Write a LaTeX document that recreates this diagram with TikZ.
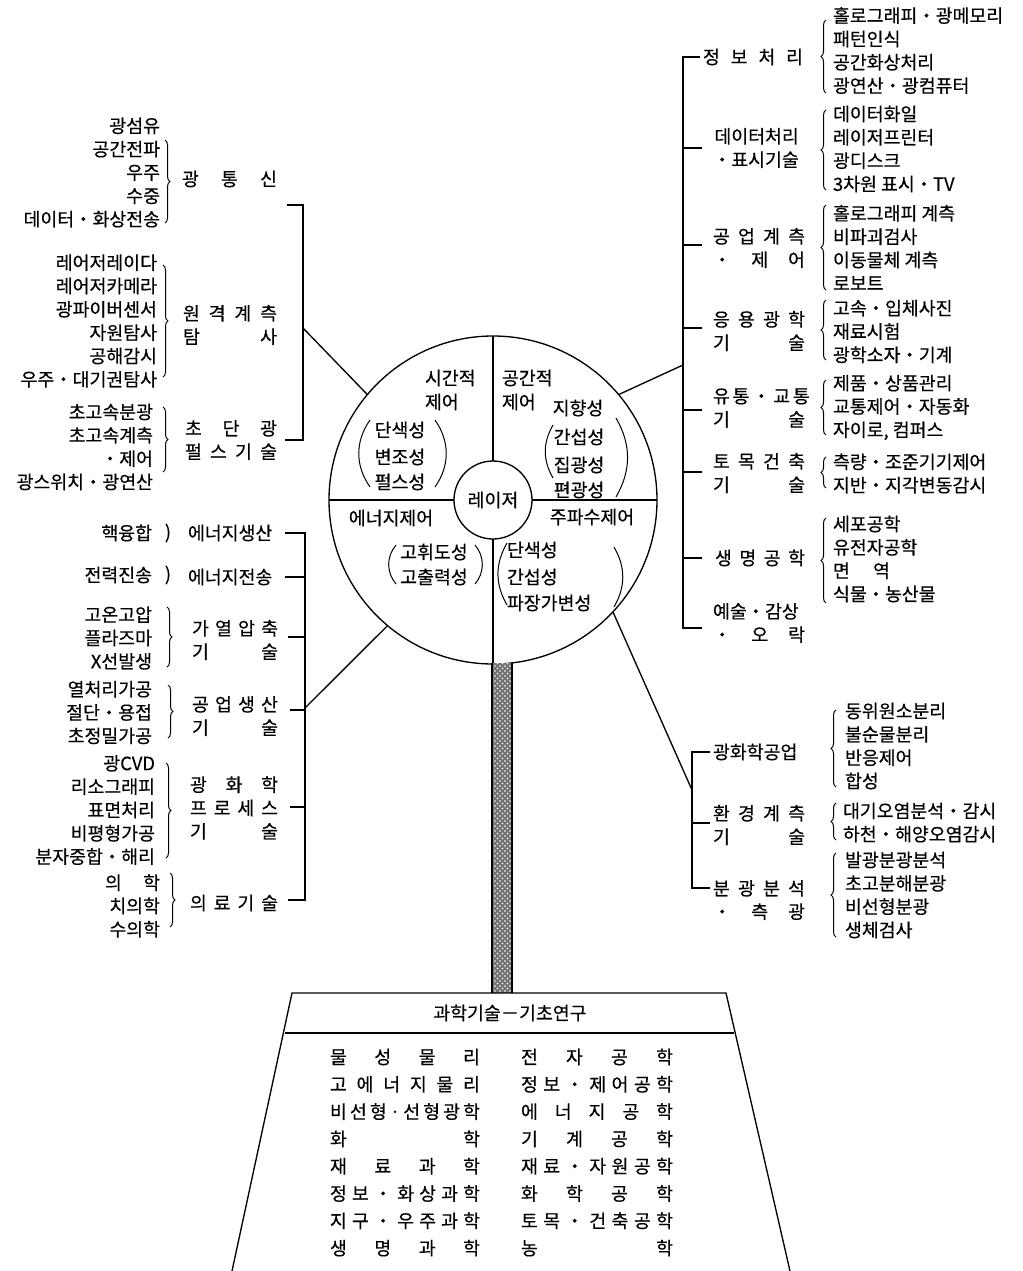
\documentclass[tikz,border=0pt]{standalone}
\usepackage{fontspec}
\setmainfont{Noto Sans CJK KR}[FakeBold=0.35]
\usetikzlibrary{decorations.pathreplacing,patterns}
\newlength\pxu \setlength\pxu{0.6pt}
\newcommand\ds[2]{\makebox[#1\pxu][s]{#2}}
\begin{document}
\fontsize{11}{14}\selectfont
\begin{tikzpicture}[x=0.6pt,y=-0.6pt,line width=0.8pt,
  every node/.style={inner sep=0pt,outer sep=0pt,font=\fontsize{11}{14}\selectfont},
  lst/.style={align=left,anchor=west},
  lstr/.style={align=right,anchor=east},
  lbl/.style={align=left,anchor=west},
  brc/.style={decorate,decoration={brace,amplitude=3pt},line width=0.6pt},
  prn/.style={line width=0.6pt}]
\useasboundingbox (0,0) rectangle (1023,1271);
\fill[white] (0,0) rectangle (1023,1271);

% ---------- central circle ----------
\node (big) [circle,draw,minimum size=196.8pt] at (493,500) {};
\node (inner) [circle,draw,fill=white,minimum size=46.8pt] at (493,500) {레이저};
\draw (big.west) -- (inner.west);
\draw (inner.east) -- (big.east);
\draw (big.north) -- (inner.north);
\draw (inner.south) -- (big.south);

\node (q1a) [anchor=west] at (425,378) {시간적};
\node (q1b) [anchor=west] at (425,402) {제어};
\node (q2a) [anchor=west] at (502,378) {공간적};
\node (q2b) [anchor=west] at (502,402) {제어};
\node (q1c) at (400,430) {단색성};
\node (q1d) at (400,457) {변조성};
\node (q1e) at (400,482) {펄스성};
\node (q2c) at (578,408) {지향성};
\node (q2d) at (579,437) {간섭성};
\node (q2e) at (579,465) {집광성};
\node (q2f) at (579,490) {편광성};
\node (q3a) at (391,518) {에너지제어};
\node (q4a) at (592,517) {주파수제어};
\node (q3b) at (434,552) {고휘도성};
\node (q3c) at (434,577) {고출력성};
\node (q4b) [anchor=west] at (507,550) {단색성};
\node (q4c) [anchor=west] at (507,577) {간섭성};
\node (q4d) [anchor=west] at (507,603) {파장가변성};

% parentheses in the circle
\draw[prn] (370,420) to[bend right=35] (370,487);
\draw[prn] (435,420) to[bend left=35] (435,487);
\draw[prn] (553,425) to[bend right=30] (553,478);
\draw[prn] (616,418) to[bend left=30] (616,497);
\draw[prn] (396,545) to[bend right=40] (396,584);
\draw[prn] (475,545) to[bend left=40] (475,584);
\draw[prn] (507,543) to[bend right=30] (507,605);
\draw[prn] (614,547) to[bend left=30] (614,607);

% ---------- stem and base ----------
\fill[black!55] (492,663) rectangle (512,993);
\fill[pattern=crosshatch dots,pattern color=white] (492,663) rectangle (512,993);
\draw[line width=1.3pt] (492,663) -- (492,993) (512,663) -- (512,993);
\draw (232,1271) -- (292,993) -- (726,993) -- (790,1271);
\draw (285,1033) -- (734,1033);
\node (hdr) at (510,1013) {과학기술－기초연구};
\foreach \a/\b [count=\i] in {{물 성 물 리}/{전 자 공 학},
  {고 에 너 지 물 리}/{정 보 ・ 제 어 공 학},
  {비 선 형 · 선 형 광 학}/{에 너 지 공 학},
  {화 학}/{기 계 공 학},
  {재 료 과 학}/{재 료 ・ 자 원 공 학},
  {정 보 ・ 화 상 과 학}/{화 학 공 학},
  {지 구 ・ 우 주 과 학}/{토 목 ・ 건 축 공 학},
  {생 명 과 학}/{농 학}}
{
  \node (tl\i) [anchor=west] at (330,{1029.7+27.3*\i}) {\ds{150}{\a}};
  \node (tr\i) [anchor=west] at (521,{1029.7+27.3*\i}) {\ds{152}{\b}};
}

% ---------- left upper ----------
\node (L1) [lstr] at (160,172.5) {광섬유\\공간전파\\우주\\수중\\데이터・화상전송};
\draw[brc] (165,140) -- (165,223);
\node (T1) [lbl] at (182,179) {\ds{95}{광 통 신}};
\node (L2) [lstr] at (157,321) {레어저레이다\\레어저카메라\\광파이버센서\\자원탐사\\공해감시\\우주・대기권탐사};
\draw[brc] (163,265) -- (163,377);
\node (T2) [lbl] at (183,325) {\ds{94}{원 격 계 측}\\\ds{94}{탐 사}};
\node (L3) [lstr] at (153,447) {초고속분광\\초고속계측\\・제어\\광스위치・광연산};
\draw[brc] (163,407) -- (163,472);
\node (T3) [lbl] at (185,440) {\ds{92}{초 단 광}\\\ds{92}{펄 스 기 술}};
\draw (287,205) -- (303,205) -- (303,440) -- (285,440);
\coordinate (ulj) at (303,328);
\draw (ulj) -- (big.140);

% ---------- left lower ----------
\node (L4) [anchor=east] at (152,533) {핵융합};
\node (P4) at (168,533) {)};
\node (T4) [lbl] at (188,533) {에너지생산};
\node (L5) [anchor=east] at (152,575) {전력진송};
\node (P5) at (168,575) {)};
\node (T5) [lbl] at (188,577) {에너지전송};
\node (L6) [lstr] at (152,638) {고온고압\\플라즈마\\X선발생};
\draw[brc] (167,607) -- (167,667);
\node (T6) [lbl] at (192,640) {\ds{86}{가 열 압 축}\\\ds{86}{기 술}};
\node (L7) [lstr] at (152,712.5) {열처리가공\\절단・용접\\초정밀가공};
\draw[brc] (168,685) -- (168,738);
\node (T7) [lbl] at (192,716) {\ds{86}{공 업 생 산}\\\ds{86}{기 술}};
\node (L8) [lstr] at (155,810) {광CVD\\리소그래피\\표면처리\\비평형가공\\분자중합・해리};
\draw[brc] (166,763) -- (166,858);
\node (T8) [lbl] at (190,808) {\ds{88}{광 화 학}\\\ds{88}{프 로 세 스}\\\ds{88}{기 술}};
\node (L9) [lstr] at (160,906) {\ds{55}{의 학}\\치의학\\수의학};
\draw[brc] (170,873) -- (170,927);
\node (T9) [lbl] at (190,903) {\ds{88}{의 료 기 술}};
\draw (285,533) -- (305,533) -- (305,900) -- (288,900);
\foreach \y/\x in {577/285,637/288,710/290,807/290} \draw (\x,\y) -- (305,\y);
\coordinate (llj) at (305,708);
\draw (big.230) -- (llj);

% ---------- right upper ----------
\node (S1) [lbl] at (703,57) {\ds{100}{정 보 처 리}};
\node (R1) [lst] at (833,50.5) {홀로그래피・광메모리\\패턴인식\\공간화상처리\\광연산・광컴퓨터};
\draw[brc] (826,93) -- (826,20);
\node (S2) [align=right,anchor=west] at (713,148) {데이터처리\\・표시기술};
\node (R2) [lst] at (833,149) {데이터화일\\레이저프린터\\광디스크\\3차원 표시・TV};
\draw[brc] (826,190) -- (826,110);
\node (S3) [lbl] at (713,248) {\ds{92}{공 업 계 측}\\\ds{92}{・ 제 어}};
\node (R3) [lst] at (833,247.5) {홀로그래피 계측\\비파괴검사\\이동물체 계측\\로보트};
\draw[brc] (826,290) -- (826,205);
\node (S4) [lbl] at (713,331) {\ds{92}{응 용 광 학}\\\ds{92}{기 술}};
\node (R4) [lst] at (833,331.5) {고속・입체사진\\재료시험\\광학소자・기계};
\draw[brc] (826,360) -- (826,300);
\node (S5) [lbl] at (713,408) {\ds{92}{유 통 ・ 교 통}\\\ds{92}{기 술}};
\node (R5) [lst] at (833,407.5) {제품・상품관리\\교통제어・자동화\\자이로, 컴퍼스};
\draw[brc] (826,435) -- (826,380);
\node (S6) [lbl] at (713,473) {\ds{92}{토 목 건 축}\\\ds{92}{기 술}};
\node (R6) [lst] at (833,473.5) {측량・조준기기제어\\지반・지각변동감시};
\draw[brc] (826,488) -- (826,457);
\node (S7) [lbl] at (715,558) {\ds{90}{생 명 공 학}};
\node (R7) [lst] at (833,559) {세포공학\\유전자공학\\\ds{57}{면 역}\\식물・농산물};
\draw[brc] (826,603) -- (826,518);
\node (S8) [lbl] at (713,623) {예술・감상\\\ds{92}{・ 오 락}};
\draw (700,57) -- (683,57) -- (683,628) -- (702,628);
\foreach \y in {148,245,328,410,472,558} \draw (683,\y) -- (702,\y);
\coordinate (urj) at (683,365);
\draw (big.40) -- (urj);

% ---------- right lower ----------
\node (S9) [lbl] at (713,752) {광화학공업};
\node (R8) [lst] at (845,746) {동위원소분리\\불순물분리\\반응제어\\합성};
\draw[brc] (836,787) -- (836,710);
\node (S10) [lbl] at (713,825) {\ds{92}{환 경 계 측}\\\ds{92}{기 술}};
\node (R9) [lst] at (843,822.5) {대기오염분석・감시\\하천・해양오염감시};
\draw[brc] (836,840) -- (836,803);
\node (S11) [lbl] at (713,900) {\ds{92}{분 광 분 석}\\\ds{92}{・ 측 광}};
\node (R10) [lst] at (845,895) {발광분광분석\\초고분해분광\\비선형분광\\생체검사};
\draw[brc] (836,937) -- (836,853);
\draw (710,752) -- (692,752) -- (692,888) -- (710,888);
\draw (692,823) -- (710,823);
\coordinate (lrj) at (692,790);
\draw (big.-43) -- (lrj);
\end{tikzpicture}
\end{document}
